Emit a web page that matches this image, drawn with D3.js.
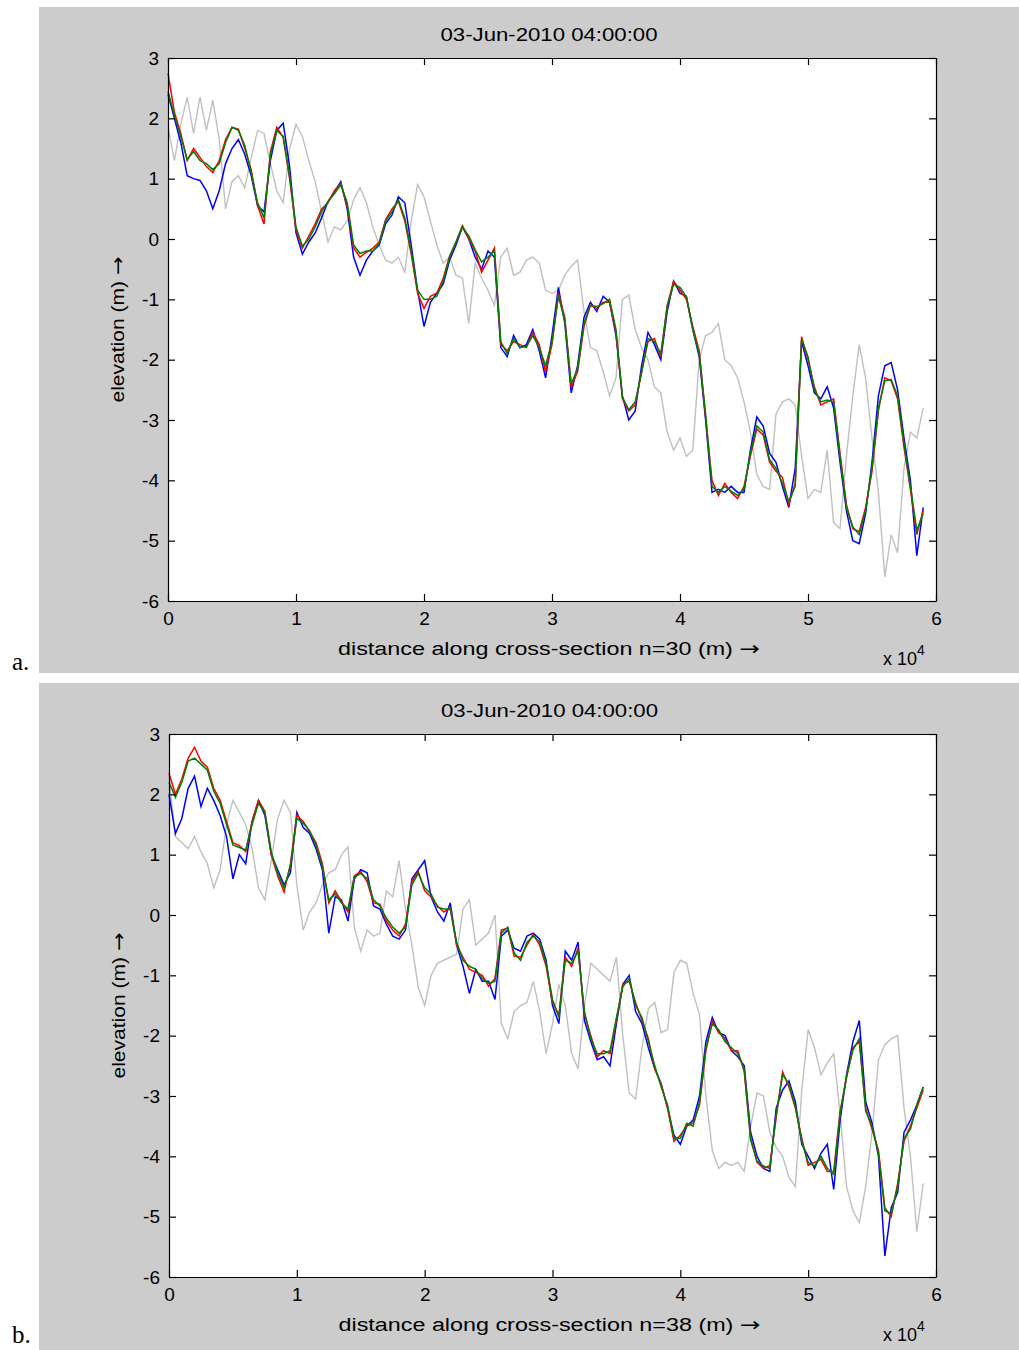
<!DOCTYPE html>
<html>
<head>
<meta charset="utf-8">
<script src="https://cdn.jsdelivr.net/npm/d3@7"></script>
<style>
  body { margin: 0; background: #fff; }
  svg text { font-family: "Liberation Sans", Arial, sans-serif; fill: #000; }
</style>
</head>
<body>
<svg id="fig" width="1019" height="1350"></svg>
<script>

// distance along the cross-section (m), one sample every 500 m
const distance = [
  0, 500, 1000, 1500, 2000, 2500, 3000, 3500, 4000, 4500,
  5000, 5500, 6000, 6500, 7000, 7500, 8000, 8500, 9000, 9500,
  10000, 10500, 11000, 11500, 12000, 12500, 13000, 13500, 14000, 14500,
  15000, 15500, 16000, 16500, 17000, 17500, 18000, 18500, 19000, 19500,
  20000, 20500, 21000, 21500, 22000, 22500, 23000, 23500, 24000, 24500,
  25000, 25500, 26000, 26500, 27000, 27500, 28000, 28500, 29000, 29500,
  30000, 30500, 31000, 31500, 32000, 32500, 33000, 33500, 34000, 34500,
  35000, 35500, 36000, 36500, 37000, 37500, 38000, 38500, 39000, 39500,
  40000, 40500, 41000, 41500, 42000, 42500, 43000, 43500, 44000, 44500,
  45000, 45500, 46000, 46500, 47000, 47500, 48000, 48500, 49000, 49500,
  50000, 50500, 51000, 51500, 52000, 52500, 53000, 53500, 54000, 54500,
  55000, 55500, 56000, 56500, 57000, 57500, 58000, 58500, 59000
];

// panel a (n=30), elevation (m)
const grayA = [
  1.86, 1.3, 1.9, 2.35, 1.75, 2.35, 1.8, 2.3, 1.65, 0.5,
  0.95, 1.05, 0.85, 1.35, 1.8, 1.75, 1.25, 0.8, 0.6, 1.5,
  1.9, 1.7, 1.3, 0.95, 0.45, -0.05, 0.2, 0.15, 0.3, 0.65,
  0.85, 0.6, 0.2, -0.1, -0.35, -0.4, -0.3, -0.55, 0.3, 0.9,
  0.7, 0.3, -0.1, -0.4, -0.3, -0.6, -0.65, -1.4, -0.4, -0.65,
  -0.85, -1.1, -0.3, -0.15, -0.6, -0.55, -0.35, -0.3, -0.4, -0.85,
  -0.9, -0.85, -0.6, -0.45, -0.35, -1.2, -1.8, -1.85, -2.2, -2.6,
  -2.3, -1.0, -0.93, -1.5, -1.8, -2.0, -2.45, -2.55, -3.2, -3.5,
  -3.3, -3.6, -3.5, -2.0, -1.6, -1.55, -1.4, -2.0, -2.1, -2.3,
  -2.7, -3.2, -3.9, -4.1, -4.15, -2.9, -2.7, -2.65, -2.75, -3.6,
  -4.3, -4.15, -4.2, -3.5, -4.7, -4.8, -3.6, -2.6, -1.75, -2.3,
  -3.3, -4.2, -5.6, -4.9, -5.2, -3.8, -3.2, -3.3, -2.8
];
const blueA = [
  2.4, 2.0, 1.6, 1.05, 1.0, 0.97, 0.8, 0.5, 0.8, 1.25,
  1.5, 1.65, 1.4, 1.05, 0.55, 0.45, 1.3, 1.8, 1.92, 1.2,
  0.1, -0.25, -0.05, 0.1, 0.35, 0.62, 0.78, 0.95, 0.5, -0.3,
  -0.6, -0.35, -0.2, -0.1, 0.25, 0.4, 0.7, 0.6, -0.1, -0.85,
  -1.45, -1.05, -0.9, -0.75, -0.35, -0.1, 0.2, 0.0, -0.3, -0.5,
  -0.2, -0.3, -1.8, -1.95, -1.6, -1.8, -1.75, -1.5, -1.85, -2.3,
  -1.6, -0.8, -1.4, -2.55, -2.1, -1.3, -1.05, -1.2, -0.95, -1.05,
  -1.6, -2.6, -3.0, -2.85, -2.1, -1.55, -1.75, -2.0, -1.2, -0.7,
  -0.9, -0.95, -1.5, -1.95, -3.0, -4.2, -4.15, -4.2, -4.1, -4.2,
  -4.2, -3.5, -2.95, -3.1, -3.55, -3.7, -4.1, -4.45, -3.8, -1.7,
  -2.1, -2.55, -2.65, -2.45, -2.8, -3.7, -4.5, -5.0, -5.05, -4.55,
  -3.7, -2.6, -2.1, -2.05, -2.5, -3.3, -4.0, -5.25, -4.45
];
const redA = [
  2.75, 2.1, 1.75, 1.3, 1.5, 1.35, 1.2, 1.1, 1.3, 1.65,
  1.85, 1.82, 1.5, 1.15, 0.55, 0.25, 1.45, 1.85, 1.68, 1.0,
  0.15, -0.15, 0.05, 0.25, 0.5, 0.6, 0.8, 0.92, 0.55, -0.15,
  -0.3, -0.22, -0.15, -0.05, 0.32, 0.5, 0.62, 0.3, -0.25, -0.9,
  -1.15, -0.95, -0.9, -0.65, -0.28, -0.05, 0.22, 0.0, -0.2, -0.55,
  -0.35, -0.15, -1.75, -1.85, -1.7, -1.75, -1.8, -1.55, -1.75, -2.2,
  -1.75, -0.9, -1.3, -2.45, -2.2, -1.45, -1.1, -1.15, -1.05, -1.05,
  -1.55, -2.65, -2.85, -2.75, -2.2, -1.7, -1.65, -1.95, -1.1, -0.7,
  -0.85, -1.0, -1.45, -1.85, -2.95, -4.0, -4.25, -4.05, -4.2, -4.3,
  -4.1, -3.6, -3.15, -3.25, -3.7, -3.85, -3.95, -4.4, -4.05, -1.62,
  -2.0, -2.45, -2.75, -2.7, -2.65, -3.55, -4.4, -4.8, -4.85, -4.45,
  -3.85, -2.85, -2.3, -2.35, -2.65, -3.45, -4.15, -4.9, -4.5
];
const greenA = [
  2.45, 2.05, 1.7, 1.32, 1.45, 1.3, 1.25, 1.15, 1.25, 1.6,
  1.85, 1.8, 1.55, 1.1, 0.6, 0.35, 1.4, 1.8, 1.7, 1.05,
  0.2, -0.12, 0.0, 0.2, 0.45, 0.62, 0.75, 0.9, 0.6, -0.1,
  -0.24, -0.2, -0.2, -0.08, 0.3, 0.45, 0.65, 0.35, -0.2, -0.85,
  -1.0, -1.0, -0.95, -0.7, -0.3, -0.05, 0.2, 0.05, -0.18, -0.38,
  -0.3, -0.2, -1.7, -1.9, -1.65, -1.8, -1.78, -1.6, -1.8, -2.1,
  -1.7, -0.95, -1.35, -2.4, -2.15, -1.4, -1.1, -1.12, -1.07, -1.0,
  -1.5, -2.62, -2.83, -2.7, -2.22, -1.65, -1.7, -1.9, -1.12, -0.75,
  -0.8, -0.96, -1.5, -1.9, -2.9, -4.1, -4.2, -4.1, -4.18, -4.25,
  -4.15, -3.55, -3.1, -3.2, -3.66, -3.8, -4.05, -4.35, -4.1, -1.67,
  -1.95, -2.5, -2.7, -2.67, -2.7, -3.6, -4.45, -4.77, -4.9, -4.5,
  -3.78, -2.8, -2.35, -2.33, -2.6, -3.4, -4.1, -4.83, -4.55
];

// panel b (n=38), elevation (m)
const grayB = [
  2.3, 1.3, 1.2, 1.1, 1.3, 1.05, 0.85, 0.45, 0.75, 1.5,
  1.9, 1.7, 1.5, 1.1, 0.45, 0.25, 0.9, 1.6, 1.9, 1.7,
  0.5, -0.25, 0.05, 0.2, 0.5, 0.7, 0.75, 1.0, 1.13, -0.2,
  -0.6, -0.25, -0.35, -0.3, 0.4, 0.3, 0.9, 0.1, -0.5, -1.2,
  -1.5, -1.0, -0.8, -0.75, -0.7, -0.65, 0.1, 0.25, -0.5, -0.4,
  -0.3, 0.0, -1.8, -2.05, -1.6, -1.5, -1.45, -1.1, -1.6, -2.3,
  -1.8, -1.15, -1.5, -2.3, -2.55, -1.5, -0.8, -0.9, -1.0, -1.1,
  -0.7, -2.0, -2.95, -3.05, -2.2, -1.55, -1.45, -1.95, -1.9, -0.95,
  -0.75, -0.8, -1.3, -1.65, -3.0, -3.9, -4.2, -4.1, -4.15, -4.1,
  -4.25, -3.5, -2.95, -3.0, -3.6, -3.85, -4.0, -4.35, -4.5, -2.9,
  -1.9, -2.2, -2.65, -2.45, -2.3, -3.3, -4.5, -4.9, -5.1, -4.5,
  -3.6, -2.4, -2.15, -2.05, -2.0, -3.2, -4.0, -5.25, -4.45
];
const blueB = [
  2.0, 1.35, 1.6, 2.1, 2.3, 1.8, 2.1, 1.9, 1.65, 1.3,
  0.6, 1.0, 0.85, 1.55, 1.9, 1.65, 1.0, 0.75, 0.5, 0.7,
  1.7, 1.45, 1.35, 1.1, 0.75, -0.3, 0.3, 0.25, -0.1, 0.6,
  0.75, 0.7, 0.15, 0.1, -0.15, -0.35, -0.4, -0.25, 0.6, 0.75,
  0.9, 0.3, 0.05, -0.1, 0.2, -0.5, -0.85, -1.3, -0.9, -1.1,
  -1.1, -1.4, -0.35, -0.25, -0.55, -0.6, -0.35, -0.3, -0.4, -0.75,
  -1.5, -1.8, -0.6, -0.75, -0.45, -1.75, -2.1, -2.4, -2.35, -2.5,
  -1.8, -1.15, -1.0, -1.6, -1.8, -2.2, -2.55, -2.8, -3.2, -3.65,
  -3.8, -3.5, -3.4, -3.0, -2.1, -1.7, -1.95, -2.0, -2.25, -2.35,
  -2.5, -3.6, -4.0, -4.2, -4.25, -3.2, -2.9, -2.75, -3.1, -3.8,
  -4.0, -4.2, -3.95, -3.8, -4.55, -3.4, -2.65, -2.1, -1.75, -3.1,
  -3.45, -4.0, -5.65, -4.85, -4.6, -3.6, -3.4, -3.15, -2.85
];
const redB = [
  2.35, 2.0, 2.25, 2.6, 2.78, 2.55, 2.45, 2.1, 1.9, 1.55,
  1.2, 1.15, 1.05, 1.55, 1.9, 1.72, 1.0, 0.65, 0.38, 0.85,
  1.65, 1.55, 1.38, 1.2, 0.85, 0.2, 0.4, 0.22, 0.05, 0.65,
  0.72, 0.55, 0.2, 0.18, -0.1, -0.25, -0.35, -0.15, 0.55, 0.72,
  0.4, 0.3, 0.15, 0.05, 0.12, -0.5, -0.7, -0.9, -0.95, -1.0,
  -1.18, -1.05, -0.25, -0.22, -0.68, -0.7, -0.5, -0.32, -0.5, -0.85,
  -1.45, -1.65, -0.7, -0.85, -0.55, -1.65, -2.0, -2.35, -2.25, -2.3,
  -1.75, -1.15, -1.1, -1.45, -1.75, -2.05, -2.55, -2.8, -3.2, -3.75,
  -3.65, -3.5, -3.45, -3.15, -2.25, -1.75, -1.95, -2.05, -2.25, -2.25,
  -2.6, -3.7, -4.1, -4.2, -4.15, -3.35, -2.6, -2.85, -3.2, -3.7,
  -4.15, -4.1, -4.05, -4.25, -4.25, -3.25, -2.7, -2.2, -2.1, -3.2,
  -3.55, -3.9, -4.85, -5.0, -4.45, -3.75, -3.5, -3.2, -2.9
];
const greenB = [
  2.2, 1.95, 2.2, 2.55, 2.6, 2.5, 2.4, 2.05, 1.85, 1.5,
  1.16, 1.12, 1.08, 1.5, 1.85, 1.7, 1.05, 0.69, 0.45, 0.8,
  1.6, 1.52, 1.4, 1.15, 0.8, 0.25, 0.35, 0.2, 0.1, 0.63,
  0.69, 0.6, 0.25, 0.15, -0.05, -0.2, -0.3, -0.2, 0.5, 0.69,
  0.45, 0.35, 0.13, 0.1, 0.1, -0.45, -0.75, -0.85, -0.9, -1.05,
  -1.13, -1.1, -0.3, -0.2, -0.63, -0.75, -0.45, -0.35, -0.45, -0.8,
  -1.4, -1.7, -0.75, -0.8, -0.6, -1.6, -2.05, -2.3, -2.3, -2.25,
  -1.7, -1.19, -1.05, -1.5, -1.7, -2.1, -2.5, -2.85, -3.15, -3.7,
  -3.7, -3.45, -3.5, -3.1, -2.2, -1.8, -1.9, -2.1, -2.2, -2.3,
  -2.55, -3.73, -4.08, -4.16, -4.2, -3.3, -2.65, -2.8, -3.18, -3.75,
  -4.1, -4.16, -4.0, -4.2, -4.3, -3.29, -2.68, -2.24, -2.05, -3.25,
  -3.5, -3.95, -4.9, -4.95, -4.5, -3.7, -3.55, -3.15, -2.85
];

// axis ticks
const xTicks = [0, 10000, 20000, 30000, 40000, 50000, 60000];
const yTicks = [-6, -5, -4, -3, -2, -1, 0, 1, 2, 3];

const titleText = "03-Jun-2010 04:00:00";
const yLabelText = "elevation (m) ";
const arrow = "\u2192";

const svg = d3.select("#fig");

/* draw one MATLAB-like figure panel */
function drawPanel(p) {
  let g = svg.append("g");

  // grey figure background
  g.append("rect")
    .attr("x", 39).attr("y", p.figTop)
    .attr("width", 980).attr("height", p.figHeight)
    .attr("fill", "#cccccc");

  // panel letter
  g.append("text")
    .attr("x", 12).attr("y", p.letterY)
    .style("font-family", "'Liberation Serif', 'Times New Roman', serif")
    .style("font-size", "25px")
    .text(p.letter);

  let x = d3.scaleLinear().domain([0, 60000]).range([p.left, p.right]);
  let y = d3.scaleLinear().domain([-6, 3]).range([p.bottom, p.top]);

  // white axes area
  g.append("rect")
    .attr("x", p.left).attr("y", p.top)
    .attr("width", p.right - p.left).attr("height", p.bottom - p.top)
    .attr("fill", "#ffffff");

  // lines: grey first, green on top
  let line = d3.line()
    .x((d, i) => x(distance[i]))
    .y(d => y(d));
  let series = [
    {values: p.gray, color: "#c0c0c0", width: 1.4},
    {values: p.blue, color: "#0000ff", width: 1.5},
    {values: p.red, color: "#ff0000", width: 1.5},
    {values: p.green, color: "#008000", width: 1.5}
  ];
  series.forEach(s => {
    g.append("path")
      .datum(s.values)
      .attr("d", line)
      .attr("fill", "none")
      .attr("stroke", s.color)
      .attr("stroke-width", s.width);
  });

  // axes (ticks pointing inwards on all four sides)
  let tickLen = 7;
  let axes = [
    {axis: d3.axisBottom(x).tickValues(xTicks).tickFormat(d => String(d / 10000)).tickPadding(11),
     at: `translate(0,${p.bottom})`},
    {axis: d3.axisTop(x).tickValues(xTicks).tickFormat(""), at: `translate(0,${p.top})`},
    {axis: d3.axisLeft(y).tickValues(yTicks).tickFormat(d => String(d)).tickPadding(9),
     at: `translate(${p.left},0)`},
    {axis: d3.axisRight(y).tickValues(yTicks).tickFormat(""), at: `translate(${p.right},0)`}
  ];
  axes.forEach(a => {
    let ag = g.append("g")
      .attr("transform", a.at)
      .call(a.axis.tickSize(-tickLen).tickSizeOuter(0));
    ag.attr("font-family", null).attr("font-size", null);
    ag.selectAll("path").attr("stroke", "#000").attr("stroke-width", 1.2);
    ag.selectAll("line").attr("stroke", "#000").attr("stroke-width", 1.2);
    ag.selectAll("text").style("font-size", "19px").attr("fill", "#000");
  });

  // title
  let cx = (p.left + p.right) / 2;
  g.append("text")
    .attr("x", cx - 3).attr("y", p.top - 17)
    .attr("text-anchor", "middle")
    .attr("textLength", 217).attr("lengthAdjust", "spacingAndGlyphs")
    .style("font-size", "18px")
    .text(titleText);

  // x label, with a full-size arrow
  let xl = g.append("text")
    .attr("x", cx - 3).attr("y", p.bottom + 54)
    .attr("text-anchor", "middle")
    .attr("textLength", 422).attr("lengthAdjust", "spacingAndGlyphs")
    .style("font-size", "18px");
  xl.append("tspan").text(p.xLabel);
  xl.append("tspan").style("font-family", "'DejaVu Sans', sans-serif").style("font-size", "19px").text(arrow);

  // y label
  let yl = g.append("text")
    .attr("transform", `translate(${p.left - 44},${(p.top + p.bottom) / 2}) rotate(-90)`)
    .attr("text-anchor", "middle")
    .attr("textLength", 146).attr("lengthAdjust", "spacingAndGlyphs")
    .style("font-size", "18px");
  yl.append("tspan").text(yLabelText);
  yl.append("tspan").style("font-family", "'DejaVu Sans', sans-serif").style("font-size", "19px").text(arrow);

  // exponent "x 10^4"
  let ex = g.append("text")
    .attr("x", p.right - 53).attr("y", p.bottom + 64)
    .style("font-size", "18px");
  ex.append("tspan").text("x 10");
  ex.append("tspan").attr("dy", -10).style("font-size", "14px").text("4");
}

drawPanel({
  figTop: 7, figHeight: 666, letter: "a.", letterY: 670,
  left: 168, right: 936, top: 58, bottom: 601,
  xLabel: "distance along cross-section n=30 (m) ",
  gray: grayA, blue: blueA, red: redA, green: greenA
});

drawPanel({
  figTop: 683, figHeight: 667, letter: "b.", letterY: 1343,
  left: 169, right: 936, top: 734, bottom: 1277,
  xLabel: "distance along cross-section n=38 (m) ",
  gray: grayB, blue: blueB, red: redB, green: greenB
});

</script>
</body>
</html>
